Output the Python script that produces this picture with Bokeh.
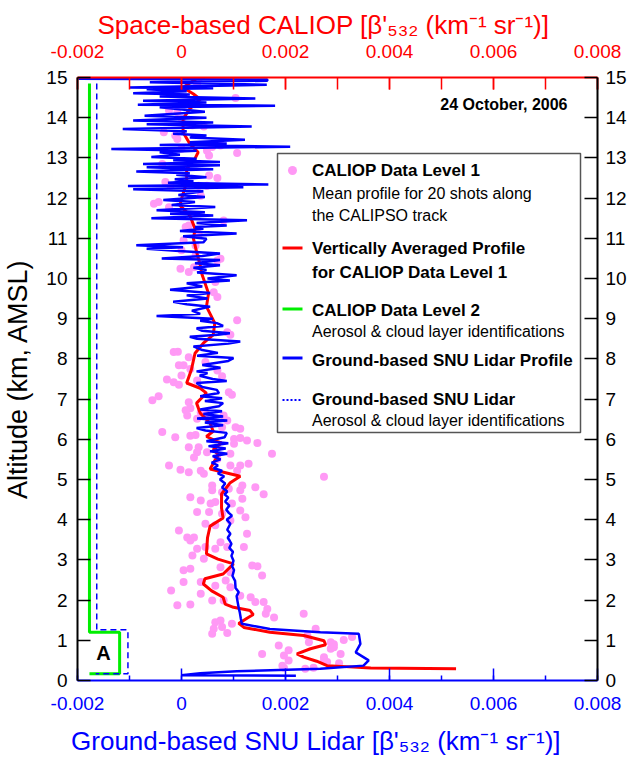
from bokeh.plotting import figure
from bokeh.models import Range1d, LinearAxis, FixedTicker, CustomJSTickFormatter, Label, Title
from bokeh.embed import file_html
from bokeh.resources import INLINE

# ---------------- data ----------------
x_ticks = [-0.002, 0.0, 0.002, 0.004, 0.006, 0.008]
x_minor = [-0.002, -0.001, 0.0, 0.001, 0.002, 0.003, 0.004, 0.005, 0.006, 0.007, 0.008]
y_ticks = list(range(0, 16))

# CALIOP Level 1 mean profile points (value, altitude km)
dots_v = [
    0.00033, 0.0003, 0.00104, -0.00024, -0.00008, 0.00001, -0.00034, -0.00012, -0.00008, 0.00021,
    0.00043, 0.00049, 0.00053, 0.00107, 0.0, 0.00059, 0.00075, -0.00037, 0.00011, 0.00053,
    0.00069, -0.00031, -0.00021, 0.0, 0.00033, 0.00049, 0.00037, -0.00053, -0.00044, -0.00024,
    0.00008, 0.00014, 0.00081, 0.00033, 0.00004, 0.00027, 0.0, 0.00027, 0.00069, 0.00075,
    -0.00002, 0.00024,
    0.00014, 0.00065, 0.00069, 0.00062, 0.00107, 0.00088, 0.00094, -0.00015, -0.00007, 0.00014,
    -0.00005, 0.00004, 0.00017, 0.0, -0.00028, -0.00015, -0.00005, 0.0003, 0.00069, 0.00078,
    0.00046, 0.00091, 0.00097, -0.00056, -0.00044, 0.00014, 0.00017, 0.00008, 0.00011, 0.00037,
    0.0003, 0.00046, 0.00081, 0.00088, 0.00104, 0.00113, 0.00078, -0.00037, -0.00012, 0.00017,
    0.00027, 0.00101, 0.00113, 0.00126, 0.00146, 0.00014, 0.00033, 0.0003, 0.00049, 0.00174,
    0.00101,
    0.00024, 0.00094, 0.00069, 0.00094, 0.00113, 0.00129, 0.00107, -0.00024, -0.00002, 0.00014,
    0.00037, 0.00043, 0.00274, 0.00059, 0.00059, 0.00078, 0.00091, 0.00113, 0.00117, 0.00142,
    0.00158, 0.00017, 0.00037, 0.00056, 0.00065, 0.00097, 0.00117, 0.00113, 0.0003, 0.00053,
    0.00078, 0.00065, 0.00094, 0.00123, 0.00046, -0.00005, 0.00011, 0.00024, 0.0003, 0.00046,
    0.00065, 0.00088, 0.00126, 0.0012, 0.00075, 0.00017, 0.00021, 0.00043, 0.00004, 0.00017,
    0.00004, 0.00037, 0.00065, 0.00094, 0.00085, 0.00075, 0.00094, 0.00136, 0.00146, 0.00155,
    -0.0002, 0.00037, 0.00059, -0.00008, 0.00017, 0.00081, 0.00113, 0.00133, 0.00142, 0.00158,
    0.00165, 0.00162, 0.00178, 0.00235, 0.00065, 0.00075, 0.00062, 0.00078, 0.00097, 0.00059,
    0.00088, 0.00258, 0.00312, 0.00293, 0.00287, 0.00187, 0.00155, 0.00197, 0.00206, 0.00274,
    0.00306,
    0.00328, 0.00206, 0.00194, 0.00197, 0.00274, 0.0028, 0.00303, 0.00238, 0.00254, 0.00242,
    0.00245, 0.00287, 0.00293,
]
dots_alt = [
    14.97, 14.84, 14.49, 14.18, 14.14, 13.97, 13.64, 13.56, 13.47, 13.81,
    13.78, 13.18, 13.06, 13.12, 13.23, 13.27, 13.31, 12.85, 12.85, 12.56,
    12.5, 12.4, 12.31, 12.4, 12.31, 12.31, 12.06, 11.86, 11.9, 11.77,
    11.28, 11.32, 11.44, 11.11, 10.95, 10.82, 10.7, 10.57, 10.45, 10.49,
    10.24, 10.28,
    10.16, 9.91, 9.54, 9.66, 8.96, 8.66, 8.6, 8.17, 8.18, 8.04,
    7.84, 7.84, 7.75, 7.59, 7.49, 7.42, 7.36, 7.46, 7.71, 7.57,
    7.92, 7.17, 7.11, 6.97, 7.07, 6.92, 6.77, 6.72, 6.59, 6.67,
    6.51, 6.63, 6.59, 6.47, 6.3, 6.26, 6.3, 6.18, 6.05, 6.09,
    6.11, 6.01, 6.03, 5.97, 5.91, 5.8, 5.8, 5.68, 5.68, 5.64,
    5.89,
    5.55, 5.64, 5.51, 5.35, 5.35, 5.39, 5.22, 5.35, 5.24, 5.18,
    5.22, 5.14, 5.07, 4.85, 4.73, 4.68, 4.77, 4.73, 4.85, 4.81,
    4.63, 4.56, 4.48, 4.4, 4.44, 4.4, 4.52, 4.23, 4.19, 4.19,
    4.15, 3.86, 3.98, 4.06, 3.9, 3.73, 3.56, 3.56, 3.28, 3.32,
    3.28, 3.32, 3.65, 3.32, 3.44, 3.48, 3.11, 3.03, 2.74, 2.78,
    2.45, 2.45, 2.36, 2.32, 2.49, 2.82, 2.69, 2.86, 2.84, 2.61,
    2.24, 2.16, 1.99, 1.87, 1.89, 1.99, 2.11, 2.07, 1.95, 1.95,
    1.78, 1.66, 1.57, 1.66, 1.45, 1.49, 1.29, 1.33, 1.41, 1.16,
    1.18, 1.29, 1.01, 0.9, 0.79, 0.87, 0.66, 0.62, 0.75, 0.58,
    0.66,
    1.08, 0.5, 0.37, 0.32, 0.5, 0.46, 0.43, 0.29, 0.32, 1.12,
    0.95, 0.95, 0.83,
]

# Vertically averaged CALIOP profile
avg_alt = [0.29, 0.31, 0.37, 0.48, 0.58, 0.66, 0.79, 0.89, 0.99, 1.12,
           1.2, 1.32, 1.42, 1.55, 1.64, 1.74, 1.82, 1.9, 2.07, 2.23,
           2.4, 2.53, 2.65, 2.9, 3.02, 3.15, 3.55, 3.84, 4.04, 4.29,
           4.64, 4.91, 5.08, 5.26, 5.33, 5.62, 5.74, 5.91, 5.95, 6.07,
           6.2, 6.4, 6.65, 6.9, 7.15, 7.27, 7.4, 7.73, 8.14, 8.39,
           8.6, 8.89, 9.3, 9.63, 10.12, 10.33, 10.66, 10.99, 11.24, 11.57,
           11.82, 11.98, 12.4, 12.73, 12.98, 13.14, 13.35, 13.64, 13.97, 14.22,
           14.46, 14.59, 14.75, 15.0]
avg_v = [0.00528, 0.00364, 0.0028, 0.0026, 0.00235, 0.00222, 0.00248, 0.00277, 0.00274, 0.00235,
         0.0017, 0.0012, 0.0011, 0.00126, 0.00138, 0.00132, 0.001, 0.00084, 0.0008, 0.00058,
         0.00042, 0.00045, 0.0008, 0.001, 0.0007, 0.00048, 0.0005, 0.00055, 0.0008, 0.00077,
         0.00077, 0.00093, 0.00113, 0.00055, 0.00058, 0.00071, 0.00061, 0.00077, 0.00068, 0.00048,
         0.00061, 0.00055, 0.00036, 0.00029, 0.00048, 0.00036, 0.0001, 0.00019, 0.00026, 0.00042,
         0.00061, 0.00064, 0.00048, 0.00052, 0.00039, 0.00036, 0.00029, 0.00023, 0.00026, 0.00016,
         -0.00003, 0.0, 0.0001, 0.0001, 0.00026, 0.00032, 0.00016, 0.00003, 0.00003, 0.00016,
         0.00036, 0.00023, 0.00003, 0.00032]

# Ground-based SNU lidar profile
snu_alt = [0.12, 0.13, 0.18, 0.23, 0.29, 0.37, 0.5, 0.7, 0.91, 1.16,
           1.2, 1.28, 1.41, 1.55, 1.7, 1.81, 1.95, 2.1, 2.2, 2.3,
           2.48, 2.6, 2.75, 2.85, 2.98, 3.1, 3.2, 3.3, 3.4, 3.47,
           3.55, 3.65, 3.75, 3.8, 3.9, 4.0, 4.1, 4.17, 4.25, 4.35,
           4.45, 4.55, 4.63, 4.7, 4.8, 4.9, 5.0, 5.08, 5.15, 5.22,
           5.28, 5.35, 5.42, 5.5, 5.58, 5.64, 5.7, 5.77, 5.83, 5.9,
           5.95, 6.05, 6.16, 6.22, 6.28, 6.35, 6.42, 6.47, 6.52, 6.57,
           6.63, 6.7, 6.74, 6.82, 6.9, 6.95, 7.02, 7.07, 7.15, 7.23,
           7.3, 7.4, 7.45, 7.5, 7.58, 7.65, 7.69, 7.78, 7.85, 7.95,
           8.02, 8.08, 8.15, 8.22, 8.31, 8.38, 8.43, 8.5, 8.55, 8.6,
           8.64, 8.7, 8.76, 8.82, 8.89, 8.95, 9.0, 9.07, 9.12, 9.2,
           9.3, 9.36, 9.42, 9.5, 9.58, 9.64, 9.72, 9.8, 9.88, 9.95,
           10.0, 10.08, 10.15, 10.21, 10.27, 10.33, 10.38, 10.46, 10.5, 10.56,
           10.62, 10.68, 10.74, 10.78, 10.83, 10.9, 10.99, 11.05, 11.12, 11.18,
           11.24, 11.28, 11.32, 11.38, 11.45, 11.5, 11.57, 11.61, 11.65, 11.7,
           11.78, 11.83, 11.9, 11.95, 12.03, 12.08, 12.17, 12.22, 12.27, 12.3,
           12.34, 12.38, 12.42, 12.47, 12.52, 12.58, 12.62, 12.66, 12.72, 12.77,
           12.82, 12.85, 12.9, 12.94, 12.98, 13.02, 13.08, 13.14, 13.18, 13.22,
           13.28, 13.32, 13.36, 13.39, 13.45, 13.51, 13.56, 13.6, 13.66, 13.72,
           13.78, 13.84, 13.88, 13.93, 14.0, 14.05, 14.15, 14.26, 14.3, 14.32,
           14.38, 14.42, 14.48, 14.53, 14.58, 14.61, 14.66, 14.71, 14.73, 14.75,
           14.82, 14.88, 14.92, 14.95, 14.97]
snu_v = [0.0022, 0.0, 0.00036, 0.00106, 0.00267, 0.0035, 0.0036, 0.00335, 0.00344, 0.00341,
         0.00267, 0.0017, 0.00116, 0.00114, 0.00112, 0.0011, 0.00108, 0.00106, 0.0011, 0.00104,
         0.00103, 0.00098, 0.00101, 0.00097, 0.001, 0.00096, 0.00099, 0.00092, 0.00096, 0.00093,
         0.00089, 0.00094, 0.00088, 0.0009, 0.00094, 0.00087, 0.00097, 0.00091, 0.00086, 0.00092,
         0.00084, 0.0009, 0.00083, 0.00088, 0.00078, 0.00084, 0.00074, 0.00082, 0.0007, 0.00078,
         0.00062, 0.0007, 0.00058, 0.00075, 0.0006, 0.00088, 0.00055, 0.00085, 0.00052, 0.0009,
         0.00048, 0.00083, 0.00087, 0.00046, 0.00029, 0.0008, 0.00045, 0.00088, 0.0003, 0.0008,
         0.00042, 0.00078, 0.00036, 0.00072, 0.0008, 0.00045, 0.00078, 0.00036, 0.00072, 0.00068,
         0.0004, 0.00029, 0.00087, 0.0006, 0.00035, 0.0005, 0.00029, 0.00075, 0.0004, 0.0009,
         0.001, 0.0003, 0.0007, 0.0004, 0.00023, 0.0009, 0.00113, 0.0003, 0.00016, 0.0007,
         0.00093, 0.0004, 0.00029, 0.0008, 0.00068, 0.00036, 0.0006, -0.00048, 0.00036, 0.0002,
         0.00055, 0.0001, -0.00016, 0.0005, 0.0001, 0.00055, -0.00022, 0.0004, 0.0001, 0.00093,
         0.0005, 0.00106, 0.0003, 0.00048, 0.00023, 0.00074, 0.00026, 0.00074, -0.00038, 0.0004,
         0.00074, 0.00003, -0.00067, 0.00003, -0.00087, 0.00042, 0.00048, 0.00003, 0.00106, -0.00003,
         0.00042, 0.00026, 0.00087, 0.00029, 0.00126, -0.00058, 0.00061, -0.00022, 0.00045, -0.00048,
         0.00065, -0.00019, 0.00026, -0.00035, 0.00045, -0.00006, 0.00042, -0.00093, 0.00119, -0.00103,
         0.00167, -0.00026, 0.00023, -0.00013, 0.00048, -0.0001, 0.00016, -0.00087, 0.00061, -0.00067,
         0.00074, -0.00074, 0.00074, -0.00016, 0.00029, -0.00058, -0.00003, -0.00042, 0.00029, -0.00135,
         0.00209, -0.00042, 0.00087, 0.00016, 0.00122, 0.00016, 0.00048, -0.00016, 0.0001, -0.00113,
         0.00135, -0.00067, 0.00061, -0.00093, 0.00048, -0.00071, 0.00045, -0.00042, 0.0018, -0.00084,
         0.00048, -0.00074, 0.00142, -0.00042, 0.00016, -0.00093, 0.0001, -0.00067, 0.00061, -0.001,
         0.00164, -0.00061, 0.00165, 0.00165, -0.00198]

# Level 2 layer identifications (outline of detected layer region)
cal2_v = [-0.00177, -0.00177, -0.00119, -0.00119, -0.00177]
cal2_alt = [14.85, 1.2, 1.2, 0.17, 0.17]
snu2_v = [-0.00163, -0.00163, -0.00103, -0.00103, -0.00165]
snu2_alt = [14.85, 1.26, 1.26, 0.17, 0.17]

top_title = "Space-based CALIOP [β'₅₃₂ (km⁻¹ sr⁻¹)]"
bottom_title = "Ground-based SNU Lidar [β'₅₃₂ (km⁻¹ sr⁻¹)]"

# ---------------- layout ----------------
W, H = 629, 759
BL, BR, BT, BB = 77, 32, 77, 79
X0, X1 = -0.002, 0.008
Y0, Y1 = 0.0, 15.0
FW = W - BL - BR
FH = H - BT - BB

def sx(px):
    return X0 + (px - BL) / FW * (X1 - X0)

def sy(py):
    return Y0 + (H - BB - py) / FH * (Y1 - Y0)

FONT = "Liberation Sans"
RED = "#ff0000"
BLUE = "#0000ff"
GREEN = "#00ee00"
PINK = "#ff99f5"
NBSP = "\u00a0"

p = figure(width=W, height=H, x_range=Range1d(X0, X1), y_range=Range1d(Y0, Y1),
           output_backend="svg", toolbar_location=None,
           min_border_left=BL, min_border_right=BR, min_border_top=BT, min_border_bottom=BB,
           x_axis_location="below", y_axis_location="left")
p.outline_line_color = None
p.grid.visible = False
p.background_fill_color = "white"
p.border_fill_color = "white"
p.title.visible = False

fmt = CustomJSTickFormatter(code="return tick == 0 ? '0' : tick.toFixed(3);")

def style_x(ax, col, minor_len, standoff):
    ax.axis_line_color = col
    ax.axis_line_width = 2
    ax.major_tick_line_color = col
    ax.minor_tick_line_color = col
    ax.major_tick_line_width = 1.5
    ax.minor_tick_line_width = 1.5
    ax.major_tick_in = 12
    ax.major_tick_out = 0
    ax.minor_tick_in = minor_len
    ax.minor_tick_out = 0
    ax.major_label_text_color = col
    ax.major_label_text_font = FONT
    ax.major_label_text_font_size = "19px"
    ax.major_label_standoff = standoff

xb = p.xaxis[0]
xb.ticker = FixedTicker(ticks=x_ticks, minor_ticks=x_minor)
xb.formatter = fmt
style_x(xb, BLUE, 5, 16)
# trailing no-break spaces move the centred title a little left, as in the reference
xb.axis_label = bottom_title + NBSP * 6
xb.axis_label_standoff = 13
xb.axis_label_text_font = FONT
xb.axis_label_text_font_size = "26px"
xb.axis_label_text_font_style = "normal"
xb.axis_label_text_color = BLUE

xt = LinearAxis(ticker=FixedTicker(ticks=x_ticks, minor_ticks=x_minor), formatter=fmt)
style_x(xt, RED, 12, 20)
p.add_layout(xt, "above")

def style_y(ax):
    ax.ticker = FixedTicker(ticks=y_ticks)
    ax.axis_line_color = "black"
    ax.axis_line_width = 2
    ax.major_tick_line_color = "black"
    ax.major_tick_line_width = 1.5
    ax.major_tick_in = 13
    ax.major_tick_out = 0
    ax.minor_tick_line_color = None
    ax.major_label_text_color = "black"
    ax.major_label_text_font = FONT
    ax.major_label_text_font_size = "19px"
    ax.axis_label_text_font = FONT
    ax.axis_label_text_font_size = "27px"
    ax.axis_label_text_font_style = "normal"
    ax.axis_label_text_color = "black"

yl = p.yaxis[0]
style_y(yl)
yl.major_label_standoff = 10
yl.axis_label = "Altitude (km, AMSL)"
yl.axis_label_standoff = 10

yr = LinearAxis()
style_y(yr)
yr.major_label_standoff = 8
p.add_layout(yr, "right")

# top axis title (offset from the left edge of the frame, as in the reference)
p.add_layout(Title(text=top_title, text_font=FONT, text_font_size="26px",
                   text_font_style="normal", text_color=RED, align="left",
                   offset=20, standoff=4), "above")

# ---------------- data marks ----------------
p.line(cal2_v, cal2_alt, line_color=GREEN, line_width=3)
p.line(snu2_v, snu2_alt, line_color=BLUE, line_width=1.5, line_dash="6 4")
p.scatter(dots_v, dots_alt, marker="circle", size=8, fill_color=PINK, line_color=None)
p.line(avg_v, avg_alt, line_color=RED, line_width=3)
p.line(snu_v, snu_alt, line_color=BLUE, line_width=2.5)

# ---------------- annotations ----------------
p.add_layout(Label(x=sx(567), y=sy(104), text="24 October, 2006", text_font=FONT,
                   text_font_size="16px", text_font_style="bold", text_align="right",
                   text_baseline="middle", text_color="black"))
p.add_layout(Label(x=sx(103), y=sy(652), text="A", text_font=FONT,
                   text_font_size="20px", text_font_style="bold", text_align="center",
                   text_baseline="middle", text_color="black"))

# legend box
p.quad(left=[sx(277)], right=[sx(580)], top=[sy(153)], bottom=[sy(432)],
       fill_color="white", line_color="#555555", line_width=1.5)

p.scatter([sx(292)], [sy(170)], marker="circle", size=9, fill_color=PINK, line_color=None)
p.line([sx(282), sx(302)], [sy(247.5)] * 2, line_color=RED, line_width=3)
p.line([sx(282), sx(302)], [sy(308.5)] * 2, line_color=GREEN, line_width=3)
p.line([sx(282), sx(302)], [sy(357.5)] * 2, line_color=BLUE, line_width=3)
p.line([sx(282), sx(302)], [sy(399.5)] * 2, line_color=BLUE, line_width=2, line_dash="2 2")

legend_lines = [
    ("CALIOP Data Level 1", 170, "bold"),
    ("Mean profile for 20 shots along", 193, "normal"),
    ("the CALIPSO track", 215, "normal"),
    ("Vertically Averaged Profile", 248, "bold"),
    ("for CALIOP Data Level 1", 272, "bold"),
    ("CALIOP Data Level 2", 309.5, "bold"),
    ("Aerosol & cloud layer identifications", 331, "normal"),
    ("Ground-based SNU Lidar Profile", 360, "bold"),
    ("Ground-based SNU Lidar", 398.5, "bold"),
    ("Aerosol & cloud layer identifications", 420, "normal"),
]
for txt, py, style in legend_lines:
    p.add_layout(Label(x=sx(311.5), y=sy(py), text=txt, text_font=FONT,
                       text_font_size=("17px" if style == "bold" else "16px"),
                       text_font_style=style, text_align="left", text_baseline="middle",
                       text_color="black"))

open("out.html", "w").write(file_html(p, INLINE))
